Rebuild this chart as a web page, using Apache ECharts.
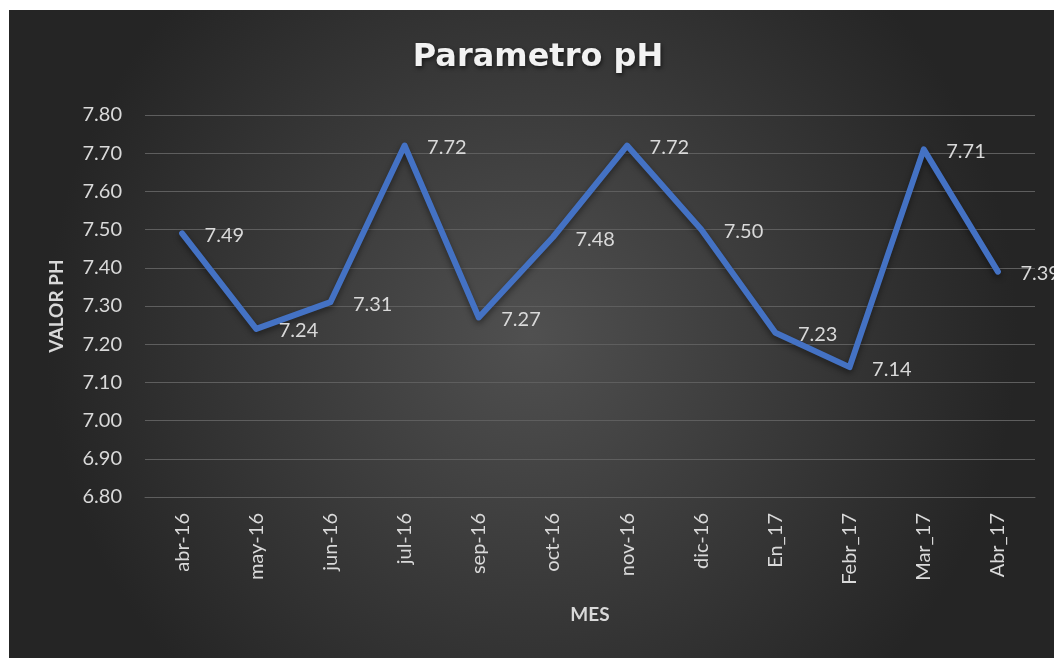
<!DOCTYPE html>
<html>
<head>
<meta charset="utf-8">
<script src="https://cdn.jsdelivr.net/npm/echarts@6/dist/echarts.min.js"></script>
<style>
html,body{margin:0;padding:0;background:#fff;overflow:hidden;width:1054px;height:658px;}
#chart{position:absolute;left:9px;top:10px;width:1045px;height:648px;}
</style>
</head>
<body>
<div id="chart"></div>
<script>
const categories = ['abr-16','may-16','jun-16','jul-16','sep-16','oct-16','nov-16','dic-16','En_17','Febr_17','Mar_17','Abr_17'];
const phValues = [7.49, 7.24, 7.31, 7.72, 7.27, 7.48, 7.72, 7.50, 7.23, 7.14, 7.71, 7.39];
const yMin = 6.8, yMax = 7.8, yStep = 0.1;
const titleText = 'Parametro pH';
const yAxisTitle = 'VALOR PH';
const xAxisTitle = 'MES';

const chart = echarts.init(document.getElementById('chart'), null, {renderer:'canvas'});
const labelColor = '#d9d9d9';
const font = 'Lato, "Open Sans", sans-serif';
chart.setOption({
  animation:false,
  backgroundColor: new echarts.graphic.RadialGradient(0.5,0.5,0.75,[
    {offset:0,color:'#505050'},{offset:1,color:'#252525'}
  ]),
  title:{
    text:titleText,
    left:524, top:27, textAlign:'center',
    textStyle:{
      fontFamily:'"DejaVu Sans", sans-serif', fontWeight:'bold', fontSize:32,
      color:'#f2f2f2',
      textShadowColor:'rgba(0,0,0,0.6)', textShadowBlur:4, textShadowOffsetX:1, textShadowOffsetY:2
    }
  },
  grid:{left:136, right:19, top:105, bottom:161, containLabel:false},
  xAxis:{
    type:'category', data:categories, boundaryGap:true,
    name:xAxisTitle, nameLocation:'middle', nameGap:108,
    nameTextStyle:{color:labelColor, fontFamily:font, fontWeight:'bold', fontSize:19},
    axisLine:{show:true, lineStyle:{color:'#5e5e5e', width:1}},
    axisTick:{show:false},
    axisLabel:{rotate:90, margin:16, color:labelColor, fontFamily:font, fontSize:20}
  },
  yAxis:{
    type:'value', min:yMin, max:yMax, interval:yStep,
    name:yAxisTitle, nameLocation:'middle', nameGap:79,
    nameTextStyle:{color:labelColor, fontFamily:font, fontWeight:'bold', fontSize:19},
    axisLine:{show:false}, axisTick:{show:false},
    axisLabel:{margin:23, color:labelColor, fontFamily:font, fontSize:20,
      formatter:v=>v.toFixed(2)},
    splitLine:{lineStyle:{color:'#5e5e5e', width:1}}
  },
  series:[{
    type:'line', data:phValues,
    symbol:'circle', symbolSize:1, showSymbol:true,
    itemStyle:{color:'rgba(68,114,196,0)', borderWidth:0},
    lineStyle:{color:'#4472C4', width:6, cap:'round', join:'round',
      shadowColor:'rgba(0,0,0,0.45)', shadowBlur:6, shadowOffsetY:3},
    label:{show:true, position:'right', distance:22, offset:[0,2], color:labelColor,
      fontFamily:font, fontSize:20, formatter:p=>p.value.toFixed(2)},
    emphasis:{disabled:true}
  }]
});
</script>
</body>
</html>
